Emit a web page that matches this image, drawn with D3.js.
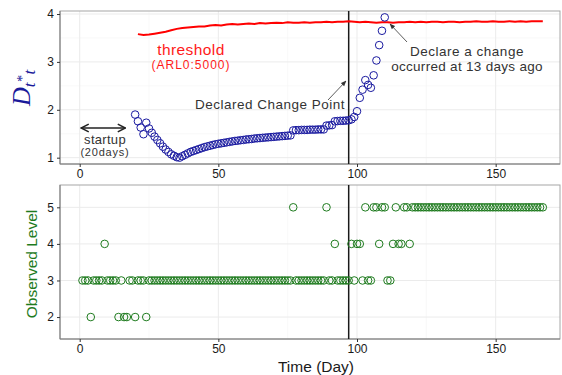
<!DOCTYPE html>
<meta charset="utf-8">
<style>
body { margin: 0; background: #fff; }
text { font-family: "Liberation Sans", Arial, sans-serif; }
.axis text { font-size: 12px; fill: #1a1a1a; }
.axis line { stroke: #333; }
.axis path { display: none; }
.grid-major { stroke: #ebebeb; stroke-width: 1; }
.grid-minor { stroke: #f4f4f4; stroke-width: 0.6; }
</style>
<svg width="562" height="375"></svg>
<script src="https://d3js.org/d3.v7.min.js"></script>
<script>

// D statistic, one value per day starting at day 20
var statStart = 20;
var statVals = [
  1.90, 1.76, 1.63, 1.49, 1.73, 1.61, 1.52, 1.44, 1.37, 1.30,
  1.23, 1.17, 1.12, 1.07, 1.04, 1.01, 1.00, 1.03, 1.06, 1.09,
  1.12, 1.14, 1.16, 1.18, 1.20, 1.22, 1.235, 1.25, 1.265, 1.28,
  1.29, 1.30, 1.31, 1.32, 1.33, 1.34, 1.35, 1.355, 1.365, 1.37,
  1.38, 1.385, 1.39, 1.40, 1.405, 1.41, 1.415, 1.42, 1.425, 1.43,
  1.435, 1.44, 1.445, 1.45, 1.455, 1.46, 1.465, 1.57, 1.575, 1.575,
  1.58, 1.58, 1.58, 1.585, 1.585, 1.585, 1.59, 1.59, 1.59, 1.67,
  1.675, 1.68, 1.76, 1.765, 1.77, 1.77, 1.775, 1.78, 1.80, 1.85,
  1.97, 2.25, 2.42, 2.62, 2.52, 2.46, 2.72, 3.03, 3.35, 3.65,
  3.93
];

// threshold line (ARL0 5000)
var thrDays = [21,23,25,27,29,31,33,35,37,39,41,43,45,47,49,51,53,55,57,59,
  61,63,65,67,69,71,73,75,77,79,81,83,85,87,89,91,93,95,97,99,
  101,103,105,107,109,111,113,115,117,119,121,123,125,127,129,131,133,135,137,139,
  141,143,145,147,149,151,153,155,157,159,161,163,165,167];
var thrVals = [3.58,3.56,3.57,3.59,3.61,3.63,3.66,3.69,3.71,3.72,3.73,3.74,3.74,3.76,3.77,3.76,3.78,3.79,3.78,3.79,
  3.80,3.79,3.81,3.80,3.81,3.82,3.81,3.83,3.82,3.82,3.83,3.82,3.83,3.83,3.84,3.83,3.84,3.84,3.85,3.84,
  3.83,3.84,3.83,3.82,3.83,3.83,3.82,3.83,3.83,3.84,3.83,3.84,3.83,3.84,3.84,3.83,3.84,3.84,3.83,3.84,
  3.84,3.85,3.84,3.84,3.85,3.84,3.84,3.85,3.84,3.85,3.84,3.85,3.85,3.85];

// observed level per day, days 1..167
var obsLevel = [
  3,3,3,2,3,3,3,3,4,3,  3,3,3,2,3,2,2,3,3,2,
  3,3,3,2,3,3,3,3,3,3,  3,3,3,3,3,3,3,3,3,3,
  3,3,3,3,3,3,3,3,3,3,  3,3,3,3,3,3,3,3,3,3,
  3,3,3,3,3,3,3,3,3,3,  3,3,3,3,3,3,5,3,3,3,
  3,3,3,3,3,3,3,3,5,3,  3,4,3,3,3,3,3,4,3,4,
  4,3,5,3,3,5,5,4,5,5,  3,3,4,5,4,4,5,5,4,5,
  5,5,5,5,5,5,5,5,5,5,  5,5,5,5,5,5,5,5,5,5,
  5,5,5,5,5,5,5,5,5,5,  5,5,5,5,5,5,5,5,5,5,
  5,5,5,5,5,5,5
];

var changeDay = 97;
var xTicks = [0, 50, 100, 150];
var xMinor = [25, 75, 125];
var yTopTicks = [1, 2, 3, 4];
var yTopMinor = [1.5, 2.5, 3.5];
var yBotTicks = [2, 3, 4, 5];

var svg = d3.select("svg");
var left = 60, right = 560;

var x = d3.scaleLinear().domain([-7.1, 173.2]).range([left, right]);
var yTop = d3.scaleLinear().domain([0.868, 4.063]).range([164, 11]);
var yBot = d3.scaleLinear().domain([1.40, 5.61]).range([339, 185]);

var defs = svg.append("defs");
defs.append("marker").attr("id", "head")
    .attr("viewBox", "0 0 10 10").attr("refX", 9).attr("refY", 5)
    .attr("markerWidth", 7).attr("markerHeight", 7).attr("orient", "auto")
  .append("path").attr("d", "M0,1 L10,5 L0,9 Z").attr("fill", "#333");
defs.append("marker").attr("id", "chev")
    .attr("viewBox", "0 0 10 10").attr("refX", 9).attr("refY", 5)
    .attr("markerWidth", 6).attr("markerHeight", 6).attr("orient", "auto-start-reverse")
  .append("path").attr("d", "M1,1 L9,5 L1,9").attr("fill", "none").attr("stroke", "#222").attr("stroke-width", 1.6);

function panel(y, yMajor, yMinor) {
  var g = svg.append("g");
  var y0 = y.range()[0], y1 = y.range()[1];
  g.selectAll(".vmin").data(xMinor).enter().append("line").attr("class", "grid-minor")
      .attr("x1", x).attr("x2", x).attr("y1", y0).attr("y2", y1);
  g.selectAll(".hmin").data(yMinor).enter().append("line").attr("class", "grid-minor")
      .attr("x1", left).attr("x2", right).attr("y1", y).attr("y2", y);
  g.selectAll(".vmaj").data(xTicks).enter().append("line").attr("class", "grid-major")
      .attr("x1", x).attr("x2", x).attr("y1", y0).attr("y2", y1);
  g.selectAll(".hmaj").data(yMajor).enter().append("line").attr("class", "grid-major")
      .attr("x1", left).attr("x2", right).attr("y1", y).attr("y2", y);
  g.append("rect").attr("x", left).attr("y", y1).attr("width", right - left).attr("height", y0 - y1)
      .attr("fill", "none").attr("stroke", "#a6a6a6").attr("stroke-width", 1);
  g.append("line").attr("x1", left).attr("x2", left).attr("y1", y1).attr("y2", y0)
      .attr("stroke", "#7a7a7a");
  g.append("line").attr("x1", left).attr("x2", right).attr("y1", y0).attr("y2", y0)
      .attr("stroke", "#7a7a7a");

  svg.append("g").attr("class", "axis")
      .attr("transform", "translate(" + left + ",0)")
      .call(d3.axisLeft(y).tickValues(yMajor).tickSize(3).tickPadding(3).tickFormat(d3.format("d")));
  svg.append("g").attr("class", "axis")
      .attr("transform", "translate(0," + y0 + ")")
      .call(d3.axisBottom(x).tickValues(xTicks).tickSize(3).tickPadding(2).tickFormat(d3.format("d")));

  g.append("line").attr("x1", x(changeDay)).attr("x2", x(changeDay))
      .attr("y1", y0).attr("y2", y1).attr("stroke", "#1a1a1a").attr("stroke-width", 1.5);
}

panel(yTop, yTopTicks, yTopMinor);
panel(yBot, yBotTicks, []);

// threshold line
var thr = thrDays.map(function(d, i) { return [d, thrVals[i]]; });
svg.append("path").datum(thr)
    .attr("fill", "none").attr("stroke", "#ff0000").attr("stroke-width", 2)
    .attr("d", d3.line().x(function(d) { return x(d[0]); }).y(function(d) { return yTop(d[1]); }));

// D statistic circles
svg.append("g").selectAll("circle").data(statVals).enter().append("circle")
    .attr("cx", function(d, i) { return x(statStart + i); })
    .attr("cy", function(d) { return yTop(d); })
    .attr("r", 3.8)
    .attr("fill", "none").attr("stroke", "#1a1aa0").attr("stroke-width", 1);

// observed levels
svg.append("g").selectAll("circle").data(obsLevel).enter().append("circle")
    .attr("cx", function(d, i) { return x(i + 1); })
    .attr("cy", function(d) { return yBot(d); })
    .attr("r", 3.8)
    .attr("fill", "none").attr("stroke", "#1e7b1e").attr("stroke-width", 1);

// annotations
svg.append("text").attr("x", 191).attr("y", 55).attr("text-anchor", "middle")
    .attr("fill", "#ff1a1a").style("font-size", "15.5px").style("letter-spacing", "0.4px").text("threshold");
svg.append("text").attr("x", 191).attr("y", 69).attr("text-anchor", "middle")
    .attr("fill", "#ff1a1a").style("font-size", "12px").style("letter-spacing", "1px").text("(ARL0:5000)");

svg.append("text").attr("x", 270).attr("y", 109).attr("text-anchor", "middle")
    .attr("fill", "#333").style("font-size", "13.5px").style("letter-spacing", "0.5px").text("Declared Change Point");
svg.append("line").attr("x1", 328).attr("y1", 100).attr("x2", 346).attr("y2", 81)
    .attr("stroke", "#333").attr("stroke-width", 0.8).attr("marker-end", "url(#head)");

svg.append("text").attr("x", 467).attr("y", 56).attr("text-anchor", "middle")
    .attr("fill", "#333").style("font-size", "13.5px").style("letter-spacing", "0.5px").text("Declare a change");
svg.append("text").attr("x", 467).attr("y", 71).attr("text-anchor", "middle")
    .attr("fill", "#333").style("font-size", "13.5px").style("letter-spacing", "0.3px").text("occurred at 13 days ago");
svg.append("line").attr("x1", 407).attr("y1", 42).attr("x2", 390).attr("y2", 24)
    .attr("stroke", "#333").attr("stroke-width", 0.8).attr("marker-end", "url(#head)");

svg.append("line").attr("x1", x(0.5)).attr("y1", 128).attr("x2", x(16.5)).attr("y2", 128)
    .attr("stroke", "#222").attr("stroke-width", 1.6)
    .attr("marker-start", "url(#chev)").attr("marker-end", "url(#chev)");
svg.append("text").attr("x", 105).attr("y", 144).attr("text-anchor", "middle")
    .attr("fill", "#333").style("font-size", "13px").style("letter-spacing", "0.3px").text("startup");
svg.append("text").attr("x", 105).attr("y", 156).attr("text-anchor", "middle")
    .attr("fill", "#333").style("font-size", "11px").style("letter-spacing", "0.8px").text("(20days)");

// axis titles
var dl = svg.append("text").attr("transform", "translate(30,106) rotate(-90)")
    .attr("fill", "#1a1a9a").style("font-family", "'Liberation Serif', serif").style("font-style", "italic");
dl.append("tspan").style("font-size", "26px").text("D");
dl.append("tspan").style("font-size", "17px").attr("dy", 5).text("t");
dl.append("tspan").style("font-size", "14px").attr("dy", -8).text("*");
dl.append("tspan").style("font-size", "17px").attr("dy", 8).attr("dx", 1).text("t");

svg.append("text").attr("transform", "translate(37,264) rotate(-90)").attr("text-anchor", "middle")
    .attr("fill", "#1e7b1e").style("font-size", "15.5px").text("Observed Level");

svg.append("text").attr("x", 316).attr("y", 372).attr("text-anchor", "middle")
    .attr("fill", "#1a1a1a").style("font-size", "15.5px").text("Time (Day)");

</script>
